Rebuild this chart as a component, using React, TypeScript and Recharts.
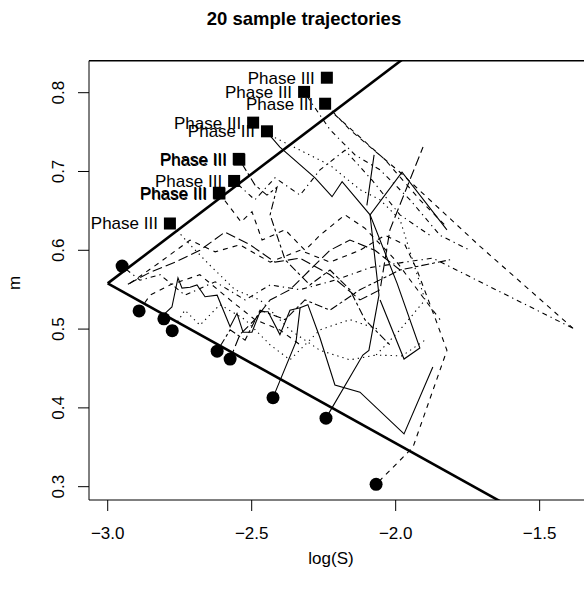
import React from 'react';
import { ComposedChart, Line, Scatter, XAxis, YAxis, ReferenceLine } from 'recharts';

// axis ranges & ticks
const xDomain = [-3.065, -1.346];
const yDomain = [0.2831, 0.8406];
const xTicks = [-3, -2.5, -2, -1.5];
const yTicks = [0.3, 0.4, 0.5, 0.6, 0.7, 0.8];

// stopping boundaries (thick lines)
const upperBound = [[-3.0, 0.558], [-1.97, 0.844]];
const lowerBound = [[-3.0, 0.558], [-1.62, 0.278]];

// trajectory end points
const failEnds = [
  [-2.950, 0.580], [-2.891, 0.523], [-2.805, 0.513], [-2.776, 0.498], [-2.620, 0.472],
  [-2.575, 0.462], [-2.426, 0.413], [-2.242, 0.387], [-2.068, 0.303],
];
const phase3Ends = [
  [-2.784, 0.634], [-2.614, 0.673], [-2.612, 0.672], [-2.561, 0.688], [-2.545, 0.716],
  [-2.543, 0.715], [-2.495, 0.762], [-2.447, 0.751], [-2.318, 0.801], [-2.239, 0.819],
  [-2.245, 0.786],
];

// 20 sample paths
const traj01 = [[-2.801, 0.520], [-2.777, 0.528], [-2.756, 0.565], [-2.742, 0.552], [-2.714, 0.553], [-2.690, 0.556], [-2.662, 0.541], [-2.620, 0.543], [-2.575, 0.503], [-2.551, 0.520], [-2.530, 0.496], [-2.499, 0.496], [-2.471, 0.522], [-2.443, 0.522], [-2.402, 0.493], [-2.367, 0.524], [-2.332, 0.527], [-2.305, 0.531], [-2.263, 0.489], [-2.211, 0.429], [-2.124, 0.420], [-1.971, 0.367], [-1.871, 0.452]];
const traj02 = [[-2.426, 0.413], [-2.346, 0.484], [-2.332, 0.527]];
const traj03 = [[-2.242, 0.387], [-2.114, 0.467], [-2.093, 0.473], [-2.058, 0.543], [-2.089, 0.645], [-1.978, 0.699], [-1.822, 0.626]];
const traj04 = [[-2.447, 0.750], [-2.402, 0.731], [-2.280, 0.692], [-2.221, 0.668], [-2.186, 0.687], [-2.089, 0.645], [-1.995, 0.558], [-1.916, 0.476], [-1.971, 0.462], [-2.054, 0.537]];
const traj05 = [[-2.100, 0.657], [-2.075, 0.721]];
const traj06 = [[-2.245, 0.786], [-2.159, 0.753], [-1.985, 0.699], [-1.707, 0.605], [-1.384, 0.501]];
const traj07 = [[-2.950, 0.580], [-2.888, 0.562], [-2.818, 0.569], [-2.732, 0.543], [-2.627, 0.560], [-2.523, 0.537], [-2.436, 0.556], [-2.332, 0.550], [-2.211, 0.562], [-2.089, 0.578], [-1.968, 0.585], [-1.871, 0.590], [-1.384, 0.501]];
const traj08 = [[-2.923, 0.558], [-2.818, 0.585], [-2.714, 0.613], [-2.627, 0.598], [-2.541, 0.607], [-2.436, 0.585], [-2.332, 0.600], [-2.228, 0.585], [-2.124, 0.600], [-2.037, 0.619], [-1.968, 0.607], [-1.926, 0.575], [-1.864, 0.515], [-1.822, 0.473], [-1.940, 0.350], [-2.068, 0.303]];
const traj09 = [[-2.930, 0.557], [-2.853, 0.572], [-2.766, 0.585], [-2.680, 0.600], [-2.593, 0.623], [-2.506, 0.607], [-2.419, 0.585], [-2.332, 0.590], [-2.228, 0.569], [-2.124, 0.537], [-2.054, 0.550], [-2.020, 0.626], [-1.905, 0.731]];
const traj10 = [[-2.495, 0.762], [-2.436, 0.746], [-2.332, 0.727], [-2.228, 0.708], [-2.124, 0.677], [-2.054, 0.664], [-1.985, 0.639], [-1.898, 0.537], [-1.985, 0.499], [-2.068, 0.467], [-1.978, 0.466], [-1.898, 0.486]];
const traj11 = [[-2.544, 0.716], [-2.489, 0.683], [-2.447, 0.670], [-2.412, 0.680], [-2.436, 0.645], [-2.384, 0.588], [-2.298, 0.556], [-2.228, 0.575], [-2.159, 0.550], [-2.107, 0.512], [-2.020, 0.480]];
const traj12 = [[-2.614, 0.673], [-2.537, 0.636], [-2.499, 0.649], [-2.464, 0.613], [-2.384, 0.626], [-2.315, 0.600], [-2.263, 0.619], [-2.176, 0.645], [-2.107, 0.628], [-2.002, 0.588], [-1.898, 0.537], [-1.846, 0.512]];
const traj13 = [[-2.561, 0.688], [-2.489, 0.664], [-2.419, 0.692], [-2.332, 0.670], [-2.263, 0.702], [-2.176, 0.727], [-2.082, 0.689], [-1.985, 0.645], [-1.881, 0.619]];
const traj14 = [[-2.784, 0.635], [-2.714, 0.607], [-2.645, 0.581], [-2.558, 0.550], [-2.471, 0.537], [-2.367, 0.499], [-2.263, 0.473], [-2.159, 0.461], [-2.068, 0.467]];
const traj15 = [[-2.891, 0.523], [-2.853, 0.543], [-2.784, 0.556], [-2.680, 0.569], [-2.575, 0.537], [-2.489, 0.512], [-2.402, 0.499], [-2.332, 0.480]];
const traj16 = [[-2.777, 0.498], [-2.732, 0.524], [-2.680, 0.505], [-2.610, 0.531], [-2.523, 0.512], [-2.436, 0.480], [-2.367, 0.461], [-2.263, 0.499], [-2.159, 0.512], [-2.054, 0.499]];
const traj17 = [[-2.620, 0.472], [-2.575, 0.499], [-2.523, 0.486], [-2.471, 0.524], [-2.384, 0.512], [-2.315, 0.537], [-2.228, 0.524], [-2.124, 0.550], [-1.985, 0.575], [-1.811, 0.588]];
const traj18 = [[-2.575, 0.462], [-2.541, 0.493], [-2.489, 0.512], [-2.436, 0.537], [-2.367, 0.550], [-2.298, 0.575], [-2.228, 0.600], [-2.159, 0.613], [-2.072, 0.600], [-1.985, 0.575]];
const traj19 = [[-2.318, 0.801], [-2.228, 0.753], [-2.141, 0.721], [-2.054, 0.702], [-1.950, 0.664], [-1.846, 0.619], [-1.742, 0.600]];
const traj20 = [[-2.211, 0.772], [-2.037, 0.715], [-1.916, 0.664], [-1.829, 0.632]];

const trajectories = [
  traj01, traj02, traj03, traj04, traj05, traj06, traj07, traj08, traj09, traj10,
  traj11, traj12, traj13, traj14, traj15, traj16, traj17, traj18, traj19, traj20,
];
const trajLty = [
  'solid', 'solid', 'solid', 'solid', 'solid', 'dashed', 'dotdash', 'dashed', 'longdash', 'dotted',
  'twodash', 'dashed', 'dotdash', 'dotted', 'dashed', 'dotted', 'twodash', 'longdash', 'dotdash', 'dashed',
];

// R line types
const DASH: Record<string, string | undefined> = {
  solid: undefined,
  dashed: '5 5',
  dotted: '1.3 4',
  dotdash: '1.3 4 5 4',
  longdash: '10 4',
  twodash: '3 3 8 3',
};

const FONT = '"Liberation Sans", Arial, Helvetica, sans-serif';

const toPts = (arr: number[][]) => arr.map(([x, y]) => ({ x, y }));

const XTick = (props: any) => {
  const { x, y, payload } = props;
  const v = payload.value.toFixed(1).replace('-', '\u2212');
  return (
    <text x={x} y={y + 28} textAnchor="middle" fontSize={17} fontFamily={FONT} fill="#000">
      {v}
    </text>
  );
};

const YTick = (props: any) => {
  const { x, y, payload } = props;
  const tx = x - 14.4;
  return (
    <text x={tx} y={y} transform={`rotate(-90, ${tx}, ${y})`} textAnchor="middle" fontSize={17} fontFamily={FONT} fill="#000">
      {payload.value.toFixed(1)}
    </text>
  );
};

const Dot = (props: any) => {
  const { cx, cy } = props;
  if (cx == null || cy == null) return null;
  return <circle cx={cx} cy={cy} r={6.5} fill="#000" />;
};

const Phase3 = (props: any) => {
  const { cx, cy } = props;
  if (cx == null || cy == null) return null;
  return (
    <g>
      <rect x={cx - 6} y={cy - 6} width={12} height={12} fill="#000" />
      <text x={cx - 12} y={cy + 6} textAnchor="end" fontSize={17} fontFamily={FONT} fill="#000">
        Phase III
      </text>
    </g>
  );
};

export default function App() {
  return (
    <div style={{ position: 'absolute', left: 0, top: 0, width: 584, height: 591, background: '#fff' }}>
      <ComposedChart width={584} height={591} margin={{ top: 60.7, right: 0, bottom: 41, left: 29 }}>
        <XAxis
          type="number"
          dataKey="x"
          domain={xDomain}
          ticks={xTicks}
          allowDataOverflow
          tickSize={11}
          tickMargin={0}
          height={50}
          stroke="#000"
          tick={<XTick />}
        />
        <YAxis
          type="number"
          dataKey="y"
          domain={yDomain}
          ticks={yTicks}
          allowDataOverflow
          tickSize={11}
          tickMargin={0}
          width={60}
          stroke="#000"
          tick={<YTick />}
        />
        <ReferenceLine y={yDomain[1]} stroke="#000" strokeWidth={1.5} />
        {trajectories.map((t, i) => (
          <Line
            key={`traj-${i}`}
            data={toPts(t)}
            dataKey="y"
            stroke="#000"
            strokeWidth={1.1}
            strokeDasharray={DASH[trajLty[i]]}
            dot={false}
            activeDot={false}
            isAnimationActive={false}
          />
        ))}
        <Line data={toPts(upperBound)} dataKey="y" stroke="#000" strokeWidth={2.6} dot={false} activeDot={false} isAnimationActive={false} />
        <Line data={toPts(lowerBound)} dataKey="y" stroke="#000" strokeWidth={2.6} dot={false} activeDot={false} isAnimationActive={false} />
        <Scatter data={toPts(failEnds)} dataKey="y" shape={<Dot />} isAnimationActive={false} />
        <Scatter data={toPts(phase3Ends)} dataKey="y" shape={<Phase3 />} isAnimationActive={false} />
      </ComposedChart>
      <svg width={584} height={591} style={{ position: 'absolute', left: 0, top: 0, pointerEvents: 'none' }}>
        <text x={304} y={25} textAnchor="middle" fontSize={18.5} fontWeight="bold" fontFamily={FONT} fill="#000">
          20  sample trajectories
        </text>
        <text x={331} y={564} textAnchor="middle" fontSize={17} fontFamily={FONT} fill="#000">
          log(S)
        </text>
        <text x={20} y={283} transform="rotate(-90, 20, 283)" textAnchor="middle" fontSize={17} fontFamily={FONT} fill="#000">
          m
        </text>
      </svg>
    </div>
  );
}
